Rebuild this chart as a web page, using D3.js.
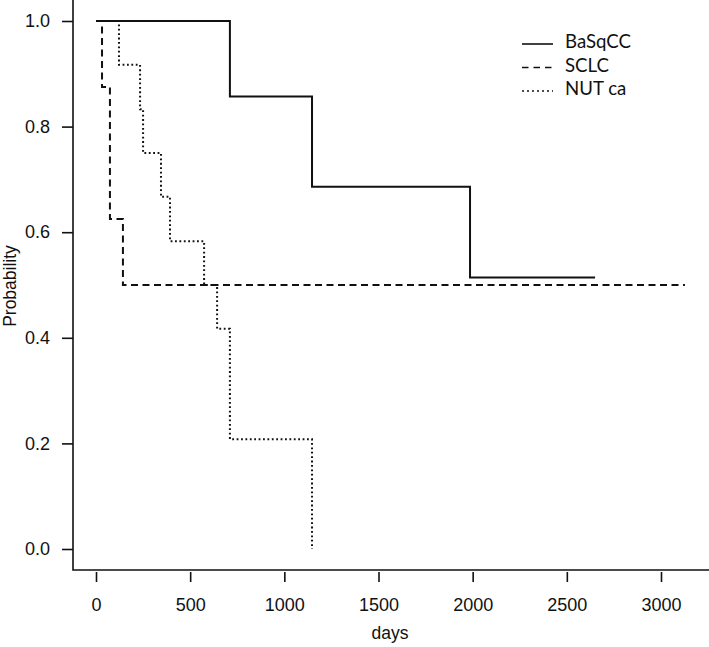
<!DOCTYPE html>
<html>
<head>
<meta charset="utf-8">
<script src="https://cdn.jsdelivr.net/npm/d3@7"></script>
<style>
  body { margin: 0; background: white; }
  svg { display: block; }
</style>
</head>
<body>
<div id="main"></div>
<script>
// Kaplan-Meier estimates
const basqccDays = [0, 711, 1147, 1986, 2650];
const basqccProb = [1, 0.857, 0.686, 0.514, 0.514];

const sclcDays = [0, 32, 74, 143, 3127];
const sclcProb = [1, 0.875, 0.625, 0.5, 0.5];

const nutDays = [0, 122, 234, 250, 345, 393, 574, 643, 711, 1147];
const nutProb = [1, 0.917, 0.833, 0.75, 0.667, 0.583, 0.5, 0.417, 0.208, 0];

const groups = ["BaSqCC", "SCLC", "NUT ca"];
const xTicks = [0, 500, 1000, 1500, 2000, 2500, 3000];
const yTicks = [0, 0.2, 0.4, 0.6, 0.8, 1.0];

const width = 709;
const height = 647;
const axisX = 73;
const axisY = 570;

const x = d3.scaleLinear().domain([0, 3000]).range([96, 661]);
const y = d3.scaleLinear().domain([0, 1]).range([549, 21]);

const svg = d3
  .select("#main")
  .append("svg")
  .attr("width", width)
  .attr("height", height);

const tickFont = "'Liberation Sans', Arial, Helvetica, sans-serif";

// axis lines (R style, open box)
svg
  .append("path")
  .attr("d", `M${axisX},0V${axisY}H${width}`)
  .attr("fill", "none")
  .attr("stroke", "#111")
  .attr("stroke-width", 1.6);

const yAxis = svg
  .append("g")
  .attr("transform", `translate(${axisX},0)`)
  .call(
    d3
      .axisLeft(y)
      .tickValues(yTicks)
      .tickFormat(d3.format(".1f"))
      .tickSize(11)
      .tickPadding(12)
  );

const xAxis = svg
  .append("g")
  .attr("transform", `translate(0,${axisY + 2})`)
  .call(
    d3
      .axisBottom(x)
      .tickValues(xTicks)
      .tickFormat(d3.format("d"))
      .tickSize(10)
      .tickPadding(16)
  );

[yAxis, xAxis].forEach((g) => {
  g.select(".domain").remove();
  g.selectAll(".tick line").attr("stroke", "#111").attr("stroke-width", 1.6);
  g.selectAll(".tick text")
    .attr("fill", "#111")
    .style("font-family", tickFont)
    .style("font-size", "18px");
});

svg
  .append("text")
  .attr("x", 390)
  .attr("y", 639)
  .attr("text-anchor", "middle")
  .style("font-family", tickFont)
  .style("font-size", "17.5px")
  .attr("fill", "#111")
  .text("days");

svg
  .append("text")
  .attr("transform", "translate(16,286) rotate(-90)")
  .attr("text-anchor", "middle")
  .style("font-family", tickFont)
  .style("font-size", "17.5px")
  .attr("fill", "#111")
  .text("Probability");

const styles = [
  { dash: null, w: 2 },
  { dash: "7,4.5", w: 2 },
  { dash: "1.8,2.6", w: 2 },
];

const series = [
  basqccDays.map((d, i) => [d, basqccProb[i]]),
  sclcDays.map((d, i) => [d, sclcProb[i]]),
  nutDays.map((d, i) => [d, nutProb[i]]),
];

const line = d3
  .line()
  .x((d) => x(d[0]))
  .y((d) => y(d[1]))
  .curve(d3.curveStepAfter);

svg
  .selectAll(".km")
  .data(series)
  .enter()
  .append("path")
  .attr("class", "km")
  .attr("d", (d) => line(d))
  .attr("fill", "none")
  .attr("stroke", "#111")
  .attr("stroke-width", (d, i) => styles[i].w)
  .attr("stroke-dasharray", (d, i) => styles[i].dash);

// legend
const legend = svg
  .selectAll(".leg")
  .data(groups)
  .enter()
  .append("g")
  .attr("class", "leg")
  .attr("transform", (d, i) => `translate(522,${48 + i * 23.5})`);

legend
  .append("line")
  .attr("x1", 0)
  .attr("x2", 31)
  .attr("y1", -4)
  .attr("y2", -4)
  .attr("stroke", "#111")
  .attr("stroke-width", 1.6)
  .attr("stroke-dasharray", (d, i) => (i === 0 ? null : i === 1 ? "6.5,5" : "2,3"));

const legText = legend
  .append("text")
  .attr("x", 43)
  .attr("y", 0)
  .style("font-family", "Lato, 'Open Sans', sans-serif")
  .style("font-size", "20px")
  .attr("fill", "#111")
  .text((d) => d);

// size legend text so "BaSqCC" is about 66px wide, as in the picture
const w0 = legText.node().getComputedTextLength();
if (w0 > 0) {
  const fs = Math.max(14, Math.min(24, (20 * 66) / w0));
  legText.style("font-size", `${fs}px`);
}
</script>
</body>
</html>
